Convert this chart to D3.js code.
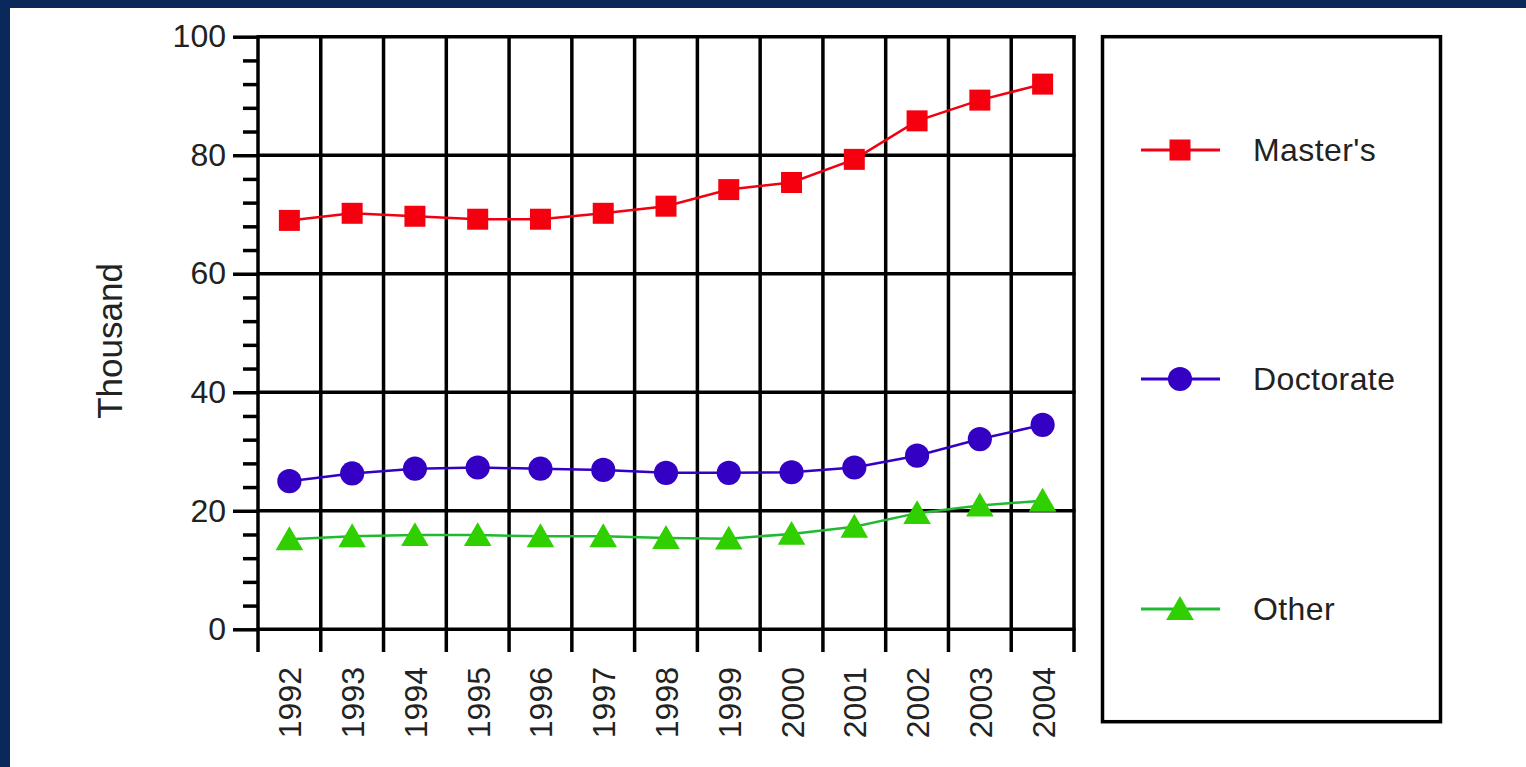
<!DOCTYPE html>
<html lang="en">
	<head>
		<meta charset="utf-8">
		<title>Graduate degrees, thousand</title>
		<script type="text/javascript" src="https://cdn.jsdelivr.net/npm/d3@7"></script>
		<style type="text/css">
			body { margin: 0; background: #fff; }
			svg { display: block; font-family: "Liberation Sans", Arial, sans-serif; }
			.grid { stroke: #000; stroke-width: 3.5; }
			.tickLabel { fill: #222; font-size: 32px; }
			.line { fill: none; stroke-width: 2.5; }
		</style>
	</head>
	<body>
		<script type="text/javascript">

			// data (thousands)
			var years = ["1992","1993","1994","1995","1996","1997","1998","1999","2000","2001","2002","2003","2004"];
			var masters   = [69.0, 70.2, 69.7, 69.2, 69.2, 70.2, 71.4, 74.2, 75.4, 79.3, 85.8, 89.3, 92.0];
			var doctorate = [25.0, 26.3, 27.1, 27.3, 27.1, 26.9, 26.4, 26.4, 26.5, 27.3, 29.3, 32.1, 34.5];
			var other     = [15.2, 15.7, 15.9, 15.9, 15.7, 15.7, 15.4, 15.3, 16.1, 17.3, 19.6, 20.9, 21.7];
			var seriesNames = ["Master's", "Doctorate", "Other"];
			var yMajor = [0, 20, 40, 60, 80, 100];
			var yTitle = "Thousand";

			var W = 1526, H = 767;
			var plotL = 258, plotR = 1074, plotT = 36.7, plotB = 629.3;

			var svg = d3.select("body").append("svg")
						.attr("width", W)
						.attr("height", H);

			// navy frame (top and left only)
			svg.append("rect").attr("x", 0).attr("y", 0).attr("width", W).attr("height", 8).attr("fill", "#0a295a");
			svg.append("rect").attr("x", 0).attr("y", 0).attr("width", 10).attr("height", H).attr("fill", "#0a295a");

			var xScale = d3.scaleBand().domain(years).range([plotL, plotR]);
			var yScale = d3.scaleLinear().domain([0, 100]).range([plotB, plotT]);
			var cx = function(d, i) { return xScale(years[i]) + xScale.bandwidth() / 2; };

			// minor ticks every 4
			var minor = d3.range(0, 101, 4).filter(function(v) { return v % 20 !== 0; });
			svg.append("g")
				.attr("transform", "translate(" + plotL + ",0)")
				.call(d3.axisLeft(yScale).tickValues(minor).tickSize(15).tickFormat(""))
				.call(function(g) {
					g.select(".domain").remove();
					g.selectAll("line").attr("class", "grid");
				});

			// major ticks + labels
			svg.append("g")
				.attr("transform", "translate(" + plotL + ",0)")
				.call(d3.axisLeft(yScale).tickValues(yMajor).tickSize(25).tickPadding(7))
				.call(function(g) {
					g.select(".domain").remove();
					g.selectAll("line").attr("class", "grid");
					g.selectAll("text").attr("class", "tickLabel");
				})
				.attr("font-family", null).attr("font-size", null);

			// horizontal gridlines
			svg.selectAll("line.hgrid")
				.data(yMajor)
				.enter().append("line")
				.attr("class", "grid")
				.attr("x1", plotL).attr("x2", plotR + 1.5)
				.attr("y1", function(d) { return yScale(d); })
				.attr("y2", function(d) { return yScale(d); });

			// vertical gridlines at band edges, extending below as ticks
			var edges = years.map(function(y) { return xScale(y); }).concat([plotR]);
			svg.selectAll("line.vgrid")
				.data(edges)
				.enter().append("line")
				.attr("class", "grid")
				.attr("x1", function(d) { return d; }).attr("x2", function(d) { return d; })
				.attr("y1", plotT - 1.5).attr("y2", 652);

			// x labels, rotated
			svg.selectAll("text.xlab")
				.data(years)
				.enter().append("text")
				.attr("class", "tickLabel")
				.attr("text-anchor", "end")
				.attr("dominant-baseline", "central")
				.attr("transform", function(d) {
					return "translate(" + (xScale(d) + xScale.bandwidth() / 2 + 1) + ",667) rotate(-90)";
				})
				.text(function(d) { return d; });

			// y title
			svg.append("text")
				.attr("class", "tickLabel")
				.style("font-size", "35px")
				.attr("text-anchor", "middle")
				.attr("dominant-baseline", "central")
				.attr("transform", "translate(109,341) rotate(-90)")
				.text(yTitle);

			var series = [
				{ name: seriesNames[0], values: masters,   line: "#f00010", fill: "#f5000f", shape: d3.symbolSquare,   size: 441, dy: 0 },
				{ name: seriesNames[1], values: doctorate, line: "#3300c4", fill: "#3300c4", shape: d3.symbolCircle,   size: 460, dy: 0 },
				{ name: seriesNames[2], values: other,     line: "#22b833", fill: "#30d000", shape: d3.symbolTriangle, size: 330, dy: 3 }
			];

			var line = d3.line()
				.x(function(d, i) { return cx(d, i); })
				.y(function(d) { return yScale(d); });

			series.forEach(function(s) {
				svg.append("path")
					.datum(s.values)
					.attr("class", "line")
					.attr("stroke", s.line)
					.attr("d", line);

				svg.selectAll(null)
					.data(s.values)
					.enter().append("path")
					.attr("fill", s.fill)
					.attr("d", d3.symbol().type(s.shape).size(s.size))
					.attr("transform", function(d, i) {
						return "translate(" + cx(d, i) + "," + (yScale(d) + s.dy) + ")";
					});
			});

			// legend
			svg.append("rect")
				.attr("x", 1102.5).attr("y", plotT)
				.attr("width", 338).attr("height", 685)
				.attr("fill", "none").attr("stroke", "#000").attr("stroke-width", 3.5);

			var legendY = [150, 379, 609];
			series.forEach(function(s, i) {
				var g = svg.append("g").attr("transform", "translate(0," + legendY[i] + ")");
				g.append("line")
					.attr("x1", 1141).attr("x2", 1220)
					.attr("y1", 0).attr("y2", 0)
					.attr("stroke", s.line).attr("stroke-width", 3);
				g.append("path")
					.attr("fill", s.fill)
					.attr("d", d3.symbol().type(s.shape).size(s.size))
					.attr("transform", "translate(1180," + s.dy + ")");
				g.append("text")
					.attr("class", "tickLabel")
					.attr("x", 1253).attr("y", 0)
					.attr("dominant-baseline", "central")
					.style("letter-spacing", "0.4px")
					.text(s.name);
			});

		</script>
	</body>
</html>
